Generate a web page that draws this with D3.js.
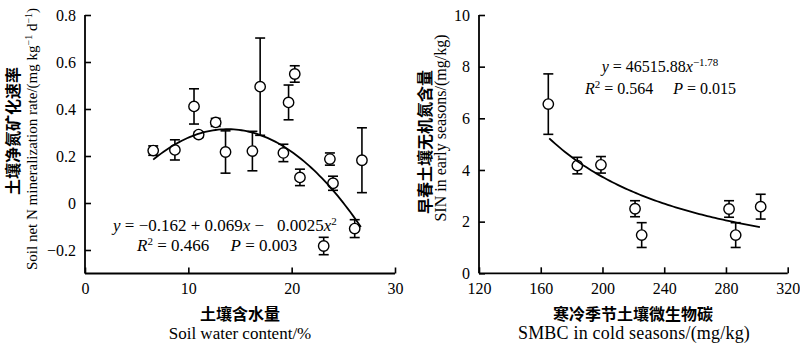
<!DOCTYPE html>
<html><head><meta charset="utf-8">
<script src="https://cdn.jsdelivr.net/npm/d3@7"></script>
<style>
body{margin:0;background:#fff;}
svg text{font-family:"Liberation Serif","Times New Roman",serif;fill:#000;}
.cn{font-family:"Noto Sans CJK SC",sans-serif;font-weight:700;}
</style></head>
<body><svg id="c" width="800" height="345"></svg>
<script>
// Left panel: soil water content (%) vs net N mineralization rate
const waterX = [6.6, 8.7, 10.55, 11.0, 12.65, 13.6, 16.2, 16.95, 19.2, 19.7, 20.3, 20.8, 23.1, 23.7, 24.0, 26.1, 26.8];
const minRate = [0.223, 0.226, 0.411, 0.291, 0.343, 0.217, 0.221, 0.495, 0.213, 0.428, 0.549, 0.109, -0.183, 0.187, 0.084, -0.109, 0.182];
const minErr = [0.02, 0.043, 0.075, 0.012, 0.017, 0.09, 0.084, 0.207, 0.037, 0.074, 0.035, 0.035, 0.037, 0.026, 0.03, 0.038, 0.138];
const leftFitCoef = [-0.162, 0.069, -0.0025];
const leftFitRange = [6.6, 26.7];
const leftXTicks = [0, 10, 20, 30];
const leftYTicks = [-0.2, 0, 0.2, 0.4, 0.6, 0.8];

// Right panel: SMBC in cold seasons vs SIN in early seasons
const smbcX = [164.9, 183.7, 199.0, 221.1, 225.4, 282.0, 286.3, 302.5];
const sinY = [6.55, 4.17, 4.20, 2.50, 1.48, 2.49, 1.48, 2.58];
const sinErr = [1.17, 0.32, 0.32, 0.31, 0.48, 0.32, 0.48, 0.48];
const rightFitCoef = [46515.88, -1.78];
const rightFitRange = [165.5, 302];
const rightXTicks = [120, 160, 200, 240, 280, 320];
const rightYTicks = [0, 2, 4, 6, 8, 10];

const svg = d3.select("#c");

function panel(o){
  const g = svg.append("g");
  const x = d3.scaleLinear().domain(o.xd).range(o.xr);
  const y = d3.scaleLinear().domain(o.yd).range(o.yr);
  const xa = g.append("g").attr("transform",`translate(0,${o.yr[0]})`)
    .call(d3.axisBottom(x).tickValues(o.xt).tickSize(-6).tickPadding(9).tickFormat(d=>String(d)));
  const ya = g.append("g").attr("transform",`translate(${o.xr[0]},0)`)
    .call(d3.axisLeft(y).tickValues(o.yt).tickSize(-6).tickPadding(9).tickFormat(o.yf));
  [xa,ya].forEach(a=>{
    a.select(".domain").remove();
    a.selectAll(".tick line").attr("stroke","#000").attr("stroke-width",1.6);
    a.selectAll(".tick text").style("font-size","16px").style("font-family","Liberation Serif");
  });
  g.append("line").attr("x1",o.xr[0]).attr("x2",o.xr[1]).attr("y1",o.yr[0]).attr("y2",o.yr[0]).attr("stroke","#000").attr("stroke-width",1.8);
  g.append("line").attr("x1",o.xr[0]).attr("x2",o.xr[0]).attr("y1",o.yr[0]).attr("y2",y(o.yt[o.yt.length-1])).attr("stroke","#000").attr("stroke-width",1.8);
  const eb = g.append("g").attr("stroke","#000").attr("stroke-width",1.6);
  o.xs.forEach((xv,i)=>{
    const cx=x(xv), t=y(o.ys[i]+o.es[i]), b=y(o.ys[i]-o.es[i]);
    eb.append("line").attr("x1",cx).attr("x2",cx).attr("y1",t).attr("y2",b);
    eb.append("line").attr("x1",cx-5).attr("x2",cx+5).attr("y1",t).attr("y2",t);
    eb.append("line").attr("x1",cx-5).attr("x2",cx+5).attr("y1",b).attr("y2",b);
  });
  g.append("g").selectAll("circle").data(o.xs).join("circle")
    .attr("cx",d=>x(d)).attr("cy",(d,i)=>y(o.ys[i])).attr("r",5.2)
    .attr("fill","#fff").attr("stroke","#000").attr("stroke-width",1.4);
  const n=80, pts=d3.range(n+1).map(k=>{const xv=o.fr[0]+(o.fr[1]-o.fr[0])*k/n; return [xv,o.f(xv)];});
  g.append("path").attr("d",d3.line().x(d=>x(d[0])).y(d=>y(d[1]))(pts))
    .attr("fill","none").attr("stroke","#000").attr("stroke-width",1.8);
  return {x,y};
}

panel({xd:[0,30],xr:[85,395],yd:[-0.3,0.8],yr:[273.5,15],xt:leftXTicks,yt:leftYTicks,
  yf:d=>d===0?"0":d3.format(".1f")(d).replace("-","\u2212"),
  xs:waterX,ys:minRate,es:minErr,fr:leftFitRange,
  f:v=>leftFitCoef[0]+leftFitCoef[1]*v+leftFitCoef[2]*v*v});
panel({xd:[120,320],xr:[479,787.7],yd:[0,10],yr:[273.3,15],xt:rightXTicks,yt:rightYTicks,
  yf:d=>String(d),
  xs:smbcX,ys:sinY,es:sinErr,fr:rightFitRange,
  f:v=>rightFitCoef[0]*Math.pow(v,rightFitCoef[1])});

function txt(x,y,parts,opt={}){
  const t=svg.append("text").attr("x",x).attr("y",y).attr("text-anchor",opt.anchor||"start")
    .style("font-size",(opt.size||16)+"px").style("white-space","pre");
  parts.forEach(p=>{
    const s=t.append("tspan").text(p.t);
    if(p.i) s.style("font-style","italic");
    if(p.sup){s.attr("baseline-shift","super").style("font-size","11px");}
  });
  return t;
}
txt(113,231,[{t:"y",i:1},{t:" = \u22120.162 + 0.069"},{t:"x",i:1},{t:" \u2212   0.0025"},{t:"x",i:1},{t:"2",sup:1}],{size:17});
txt(137,251,[{t:"R",i:1},{t:"2",sup:1},{t:" = 0.466     "},{t:"P",i:1},{t:" = 0.003"}],{size:17});
txt(660,72,[{t:"y",i:1},{t:" = 46515.88"},{t:"x",i:1},{t:"\u22121.78",sup:1}],{anchor:"middle"});
txt(585,94,[{t:"R",i:1},{t:"2",sup:1},{t:" = 0.564     "},{t:"P",i:1},{t:" = 0.015"}]);

svg.append("text").attr("class","cn").attr("x",240).attr("y",320).attr("text-anchor","middle").style("font-size","16px").text("土壤含水量");
svg.append("text").attr("x",240).attr("y",339).attr("text-anchor","middle").style("font-size","17px").text("Soil water content/%");
svg.append("text").attr("class","cn").attr("x",633).attr("y",320).attr("text-anchor","middle").style("font-size","16px").text("寒冷季节土壤微生物碳");
svg.append("text").attr("x",634).attr("y",339).attr("text-anchor","middle").style("font-size","18px").style("letter-spacing","0.2px").text("SMBC in cold seasons/(mg/kg)");

svg.append("text").attr("class","cn").attr("x",0).attr("y",0).attr("text-anchor","middle")
  .attr("transform","translate(19,131) rotate(-90)").style("font-size","16px").text("土壤净氮矿化速率");
const ly=svg.append("text").attr("x",0).attr("y",0).attr("text-anchor","middle")
  .attr("transform","translate(37,139) rotate(-90)").style("font-size","15px");
ly.append("tspan").text("Soil net N mineralization rate/(mg kg");
ly.append("tspan").attr("baseline-shift","super").style("font-size","10px").text("\u22121");
ly.append("tspan").text(" d");
ly.append("tspan").attr("baseline-shift","super").style("font-size","10px").text("\u22121");
ly.append("tspan").text(")");

svg.append("text").attr("class","cn").attr("x",0).attr("y",0).attr("text-anchor","middle")
  .attr("transform","translate(431,142) rotate(-90)").style("font-size","16px").text("早春土壤无机氮含量");
svg.append("text").attr("x",0).attr("y",0).attr("text-anchor","middle")
  .attr("transform","translate(446,128) rotate(-90)").style("font-size","16px").text("SIN in early seasons/(mg/kg)");
</script></body></html>
